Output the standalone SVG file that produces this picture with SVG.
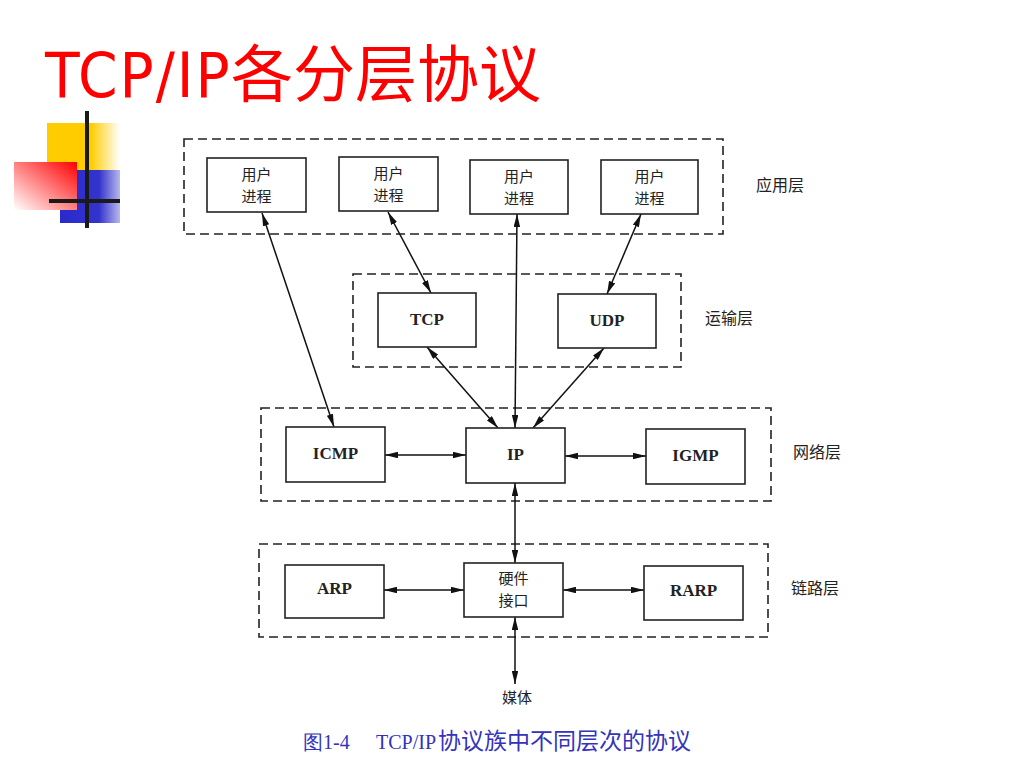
<svg xmlns="http://www.w3.org/2000/svg" width="1024" height="768" viewBox="0 0 1024 768">
<defs>
<linearGradient id="gY" x1="0" y1="0" x2="1" y2="0">
<stop offset="0" stop-color="#ffcc00"/><stop offset="0.6" stop-color="#ffcc00"/><stop offset="1" stop-color="#ffffff"/>
</linearGradient>
<linearGradient id="gB" x1="0" y1="0" x2="1" y2="0">
<stop offset="0" stop-color="#2a2acc"/><stop offset="0.65" stop-color="#3333cc"/><stop offset="1" stop-color="#b8b8ee"/>
</linearGradient>
<linearGradient id="gR" x1="1" y1="0" x2="0" y2="1">
<stop offset="0" stop-color="#ff0000"/><stop offset="1" stop-color="#ffffff"/>
</linearGradient>
<marker id="ah" viewBox="0 0 12 6" refX="12" refY="3" markerWidth="13" markerHeight="6.5" markerUnits="userSpaceOnUse" orient="auto-start-reverse">
<path d="M0,0 L12,3 L0,6 z" fill="#111"/>
</marker>
</defs>
<style>
.title{font-family:"DejaVu Sans Condensed","DejaVu Sans",sans-serif;font-size:63px;fill:#ff0000}
.layer{fill:none;stroke:#222;stroke-width:1.6;stroke-dasharray:9 5}
.box{fill:#fff;stroke:#222;stroke-width:1.6}
.cn{font-family:"Noto Sans CJK SC",sans-serif;font-size:15px;fill:#222;text-anchor:middle}
.en{font-family:"Liberation Serif",serif;font-weight:bold;font-size:17px;fill:#222;text-anchor:middle}
.lbl{font-family:"Noto Sans CJK SC",sans-serif;font-size:16px;fill:#222}
.con{stroke:#111;stroke-width:1.5;fill:none;marker-start:url(#ah);marker-end:url(#ah)}
.cap{font-family:"Liberation Serif",serif;font-size:20px;fill:#3333bb}
</style>
<rect width="1024" height="768" fill="#fff"/>
<g id="decoration">
<rect x="47" y="123" width="73" height="47" fill="url(#gY)"/>
<rect x="60" y="170" width="60" height="53" fill="url(#gB)"/>
<rect x="14" y="162" width="63" height="48" fill="url(#gR)"/>
<line x1="87" y1="111" x2="87" y2="228" stroke="#1a1a1a" stroke-width="4"/>
<line x1="49" y1="201" x2="120" y2="201" stroke="#1a1a1a" stroke-width="4"/>
</g>
<text id="title" class="title" x="45" y="97"><tspan letter-spacing="2">TCP/IP</tspan><tspan x="231" font-family="Noto Sans CJK SC,sans-serif" font-size="62">各分层协议</tspan></text>
<g id="layers">
<rect id="app-layer" class="layer" x="184" y="139" width="539" height="95"/>
<rect id="transport-layer" class="layer" x="353" y="274" width="328" height="93"/>
<rect id="network-layer" class="layer" x="261" y="408" width="510" height="93"/>
<rect id="link-layer" class="layer" x="259" y="544" width="509" height="93"/>
<text class="lbl" x="756" y="191">应用层</text>
<text class="lbl" x="705" y="324">运输层</text>
<text class="lbl" x="793" y="458">网络层</text>
<text class="lbl" x="791" y="594">链路层</text>
</g>
<g id="connectors">
<line class="con" x1="262" y1="213" x2="334" y2="427"/>
<line class="con" x1="388" y1="212" x2="431" y2="293"/>
<line class="con" x1="517" y1="214" x2="515" y2="428"/>
<line class="con" x1="641" y1="214" x2="607" y2="294"/>
<line class="con" x1="427" y1="347" x2="498" y2="428"/>
<line class="con" x1="604" y1="348" x2="533" y2="428"/>
<line class="con" x1="385" y1="455" x2="466" y2="455"/>
<line class="con" x1="565" y1="456" x2="646" y2="456"/>
<line class="con" x1="515" y1="483" x2="515" y2="563"/>
<line class="con" x1="384" y1="590" x2="464" y2="590"/>
<line class="con" x1="563" y1="590" x2="644" y2="590"/>
<line class="con" x1="515" y1="617" x2="515" y2="684"/>
</g>
<g id="user1"><rect class="box" x="207" y="158" width="99" height="54"/><text class="cn" x="256.5" y="180">用户</text><text class="cn" x="256.5" y="202">进程</text></g>
<g id="user2"><rect class="box" x="339" y="157" width="99" height="54"/><text class="cn" x="388.5" y="179">用户</text><text class="cn" x="388.5" y="201">进程</text></g>
<g id="user3"><rect class="box" x="470" y="160" width="98" height="54"/><text class="cn" x="519" y="182">用户</text><text class="cn" x="519" y="204">进程</text></g>
<g id="user4"><rect class="box" x="601" y="160" width="97" height="54"/><text class="cn" x="649.5" y="182">用户</text><text class="cn" x="649.5" y="204">进程</text></g>
<g id="tcp"><rect class="box" x="378" y="293" width="98" height="54"/><text class="en" x="427" y="325">TCP</text></g>
<g id="udp"><rect class="box" x="558" y="294" width="98" height="54"/><text class="en" x="607" y="326">UDP</text></g>
<g id="icmp"><rect class="box" x="286" y="427" width="99" height="55"/><text class="en" x="335.5" y="459">ICMP</text></g>
<g id="ip"><rect class="box" x="466" y="428" width="99" height="55"/><text class="en" x="515.5" y="460">IP</text></g>
<g id="igmp"><rect class="box" x="646" y="429" width="99" height="55"/><text class="en" x="695.5" y="461">IGMP</text></g>
<g id="arp"><rect class="box" x="285" y="565" width="99" height="53"/><text class="en" x="334.5" y="594">ARP</text></g>
<g id="hw"><rect class="box" x="464" y="563" width="99" height="54"/><text class="cn" x="513.5" y="584">硬件</text><text class="cn" x="513.5" y="606">接口</text></g>
<g id="rarp"><rect class="box" x="644" y="566" width="99" height="54"/><text class="en" x="693.5" y="596">RARP</text></g>
<g id="media"><text class="cn" x="517" y="703" font-size="16">媒体</text></g>
<text id="caption" class="cap" x="303" y="749">图1-4<tspan x="376">TCP/IP</tspan><tspan x="438" font-family="Noto Sans CJK SC,serif" font-size="23">协议族中不同层次的协议</tspan></text>
</svg>
